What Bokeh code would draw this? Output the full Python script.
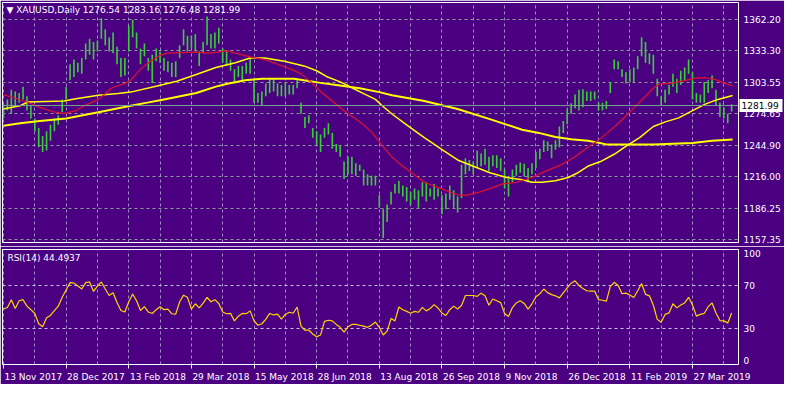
from bokeh.plotting import figure
from bokeh.layouts import column
from bokeh.models import FixedTicker, PrintfTickFormatter, Span, Label, Range1d
from bokeh.core.properties import value
from bokeh.embed import file_html
from bokeh.resources import INLINE

# ---------------- data ----------------
bar_high = [
    1283.3, 1287.7, 1296.6, 1295.1, 1293.6, 1299.6, 1290.7, 1281.8, 1269.9, 1261.0,
    1253.6, 1258.0, 1264.0, 1269.9, 1272.9, 1287.7, 1299.6, 1320.4, 1324.8, 1321.9,
    1326.3, 1339.7, 1344.1, 1341.2, 1342.6, 1363.4, 1353.0, 1345.6, 1350.1, 1336.7,
    1326.3, 1326.3, 1356.0, 1361.9, 1350.1, 1335.2, 1339.7, 1326.3, 1329.3, 1335.2,
    1332.3, 1326.3, 1323.3, 1321.9, 1323.3, 1338.2, 1353.0, 1347.1, 1347.1, 1348.6,
    1332.3, 1341.2, 1364.9, 1348.6, 1350.1, 1354.5, 1335.2, 1332.3, 1324.8, 1315.9,
    1318.9, 1318.9, 1321.9, 1326.3, 1305.5, 1293.6, 1295.1, 1302.6, 1307.0, 1307.0,
    1302.6, 1301.1, 1304.0, 1301.1, 1301.1, 1305.5, 1284.7, 1271.4, 1272.9, 1261.0,
    1258.0, 1255.1, 1261.0, 1265.4, 1256.5, 1246.2, 1244.7, 1229.8, 1234.3, 1234.3,
    1228.3, 1226.9, 1222.4, 1217.9, 1216.5, 1216.5, 1198.6, 1185.3, 1189.7, 1201.6,
    1209.0, 1212.0, 1207.5, 1206.1, 1201.6, 1204.6, 1203.1, 1210.5, 1210.5, 1204.6,
    1209.0, 1204.6, 1198.6, 1200.1, 1207.5, 1203.1, 1197.2, 1226.9, 1232.8, 1231.3,
    1229.8, 1240.2, 1237.2, 1241.7, 1234.3, 1235.7, 1235.7, 1232.8, 1222.4, 1213.5,
    1222.4, 1226.9, 1228.9, 1227.7, 1223.9, 1228.3, 1238.7, 1241.7, 1249.7, 1248.5,
    1245.6, 1249.7, 1262.5, 1267.5, 1278.8, 1284.1, 1292.2, 1296.6, 1297.2, 1295.1,
    1295.1, 1295.1, 1284.7, 1284.7, 1286.2, 1304.0, 1324.8, 1323.3, 1315.9, 1312.9,
    1315.9, 1317.4, 1327.8, 1345.6, 1341.2, 1330.8, 1329.3, 1307.0, 1290.7, 1296.6,
    1301.1, 1311.5, 1307.0, 1314.4, 1317.4, 1324.8, 1312.9, 1293.6, 1292.2, 1304.0,
    1305.5, 1310.0, 1296.6, 1284.7, 1280.3, 1274.4, 1283.2,
]
bar_low = [
    1269.9, 1277.3, 1274.4, 1281.8, 1284.7, 1287.7, 1277.3, 1269.9, 1258.0, 1243.2,
    1238.7, 1240.2, 1249.1, 1258.0, 1264.0, 1275.8, 1287.7, 1305.5, 1308.5, 1312.9,
    1311.5, 1324.8, 1329.3, 1324.8, 1332.3, 1344.1, 1338.2, 1332.3, 1330.8, 1320.4,
    1308.5, 1310.0, 1332.3, 1345.6, 1335.2, 1320.4, 1327.8, 1314.4, 1303.1, 1323.3,
    1321.9, 1314.4, 1312.9, 1308.5, 1308.5, 1326.3, 1338.2, 1332.3, 1335.2, 1332.3,
    1318.9, 1330.8, 1338.2, 1335.2, 1335.2, 1339.7, 1321.9, 1318.9, 1314.4, 1302.6,
    1308.5, 1305.5, 1311.5, 1311.5, 1284.7, 1284.7, 1281.8, 1290.7, 1293.6, 1295.1,
    1290.7, 1290.7, 1290.7, 1292.2, 1292.2, 1298.1, 1274.4, 1261.0, 1265.4, 1252.1,
    1244.7, 1238.7, 1252.1, 1255.1, 1241.7, 1238.7, 1234.3, 1213.5, 1217.9, 1217.9,
    1216.5, 1220.9, 1207.5, 1207.5, 1207.5, 1207.5, 1186.8, 1158.6, 1173.4, 1189.7,
    1200.1, 1200.1, 1197.2, 1192.7, 1189.7, 1194.2, 1186.8, 1197.2, 1192.7, 1197.2,
    1194.2, 1197.2, 1180.8, 1185.3, 1194.2, 1186.8, 1182.3, 1195.7, 1217.9, 1220.9,
    1217.9, 1223.9, 1225.4, 1226.9, 1220.9, 1225.4, 1223.9, 1220.9, 1204.6, 1197.2,
    1210.5, 1216.5, 1219.4, 1215.9, 1210.5, 1217.9, 1223.9, 1231.9, 1238.7, 1239.6,
    1232.8, 1240.8, 1243.2, 1256.5, 1264.5, 1274.4, 1279.4, 1277.3, 1280.3, 1286.2,
    1286.2, 1287.7, 1277.3, 1277.3, 1278.8, 1293.6, 1315.9, 1315.9, 1308.5, 1302.6,
    1304.0, 1304.0, 1315.9, 1327.8, 1321.9, 1320.4, 1311.5, 1290.7, 1281.8, 1284.7,
    1292.2, 1299.6, 1293.6, 1301.1, 1305.5, 1311.5, 1287.7, 1284.7, 1284.7, 1284.7,
    1293.6, 1298.1, 1281.8, 1271.4, 1269.9, 1265.4, 1276.5,
]

# moving averages: (bar position, price)
ma_red_x = [0, 2.5, 6, 9.25, 12.5, 15.5, 18.5, 21, 24.25, 27.5, 31, 32.5, 35, 37.5, 40, 41.75,
            49.25, 52.5, 57.25, 59.25, 63.5, 66.75, 70, 73.5, 76, 78.5, 81, 84.25, 87.5, 91,
            94.25, 96.75, 99.25, 101, 104.25, 107.5, 111.75, 116, 118.5, 121.75, 124.25, 127.5,
            131, 135, 138.5, 142.5, 146, 149.25, 151.75, 154.25, 157.5, 161.75, 166, 167.5,
            171, 174.25, 176.75, 179.25, 181.75, 184.25, 186.25]
ma_red_y = [1292.2, 1289.2, 1285.3, 1280.3, 1276.4, 1274.4, 1277.3, 1282.4, 1287.7, 1298.1,
            1302.6, 1305.5, 1315.9, 1323.3, 1328.7, 1330.8, 1331.7, 1330.8, 1332.9, 1330.8,
            1326.9, 1324.8, 1320.4, 1315.9, 1311.5, 1304.0, 1295.1, 1285.3, 1275.8, 1266.9,
            1256.5, 1244.7, 1234.0, 1228.3, 1219.4, 1210.5, 1204.6, 1198.6, 1198.6, 1201.6,
            1204.6, 1209.0, 1210.5, 1215.0, 1220.9, 1226.9, 1234.3, 1243.2, 1249.1, 1256.5,
            1266.9, 1282.4, 1298.1, 1302.0, 1303.1, 1305.5, 1307.6, 1307.9, 1306.4, 1302.6,
            1300.2]

ma_mid_x = [0, 4.25, 6.25, 15.5, 18.5, 24.25, 29.25, 32.5, 39.25, 44.25, 49.25, 54.25, 59.25,
            63, 66.75, 71.75, 76.75, 80, 82.5, 86, 89.25, 91.75, 95, 96.75, 99.25, 103.5,
            107.5, 111.75, 116, 120, 124.25, 128.5, 132.5, 135, 137.5, 141, 144.25, 146.75,
            149.25, 152.5, 156, 159.25, 162.5, 166, 169.25, 172.5, 176, 179.25, 182.5, 186.25]
ma_mid_y = [1278.8, 1281.8, 1285.3, 1286.2, 1288.3, 1291.6, 1293.1, 1294.5, 1300.2, 1304.6,
            1310.9, 1317.4, 1321.9, 1326.3, 1326.3, 1323.3, 1318.9, 1314.4, 1309.1, 1304.0,
            1298.1, 1293.6, 1287.7, 1281.8, 1274.1, 1262.5, 1252.1, 1241.7, 1231.3, 1225.4,
            1219.4, 1215.0, 1212.9, 1210.5, 1210.5, 1212.0, 1215.0, 1219.4, 1225.4, 1229.8,
            1236.6, 1244.7, 1252.1, 1262.5, 1267.0, 1270.5, 1277.3, 1283.3, 1287.7, 1291.3]

ma_slow_x = [0, 4.25, 9.25, 16, 24.25, 32.5, 36.75, 41, 49.25, 54.25, 57.5, 61.75, 66, 74.25,
             76.75, 81, 85, 91, 96, 99.25, 107.5, 116, 124.25, 132.5, 136.75, 141, 145,
             149.25, 151.75, 154.25, 166, 176, 181, 186.25]
ma_slow_y = [1263.1, 1265.4, 1267.5, 1269.9, 1275.8, 1281.8, 1284.7, 1287.7, 1293.6, 1299.6,
             1302.6, 1305.5, 1307.0, 1307.0, 1305.5, 1303.1, 1301.1, 1298.1, 1294.5, 1291.6,
             1286.2, 1278.8, 1269.3, 1259.5, 1256.5, 1252.7, 1250.6, 1249.1, 1247.6, 1245.6,
             1245.6, 1247.1, 1249.1, 1250.3]

rsi = [
    48.1, 49.5, 56.8, 48.6, 55.8, 56.8, 50.8, 47.5, 44.0, 34.4,
    31.6, 39.9, 42.1, 46.7, 50.8, 59.0, 65.9, 72.7, 72.2, 69.5,
    66.7, 72.7, 73.3, 64.5, 69.5, 73.3, 66.7, 60.7, 63.2, 54.1,
    46.7, 45.3, 54.9, 62.1, 55.8, 46.7, 50.3, 45.3, 44.0, 47.5,
    50.3, 47.5, 48.1, 43.7, 43.4, 54.9, 61.0, 59.0, 48.1, 53.0,
    49.2, 53.6, 59.0, 54.9, 56.8, 53.3, 45.3, 43.7, 44.0, 37.1,
    41.5, 44.0, 43.7, 46.4, 37.1, 33.0, 34.4, 38.5, 44.0, 42.6,
    43.4, 38.8, 43.1, 45.1, 44.2, 50.0, 32.2, 28.4, 28.6, 24.8,
    22.3, 24.0, 36.6, 37.7, 37.1, 33.8, 31.1, 26.7, 31.6, 33.8,
    33.8, 33.0, 32.2, 31.1, 33.0, 36.0, 31.1, 24.0, 27.5, 39.3,
    37.1, 50.0, 47.5, 45.9, 44.2, 45.9, 45.1, 49.7, 46.4, 48.6,
    52.2, 48.9, 44.5, 42.1, 47.5, 50.8, 48.1, 51.4, 60.7, 60.7,
    60.7, 59.9, 62.9, 60.4, 51.6, 57.4, 55.8, 54.1, 44.0, 41.2,
    49.5, 53.8, 55.8, 53.3, 48.1, 53.0, 59.6, 62.3, 66.7, 63.4,
    61.5, 60.4, 58.5, 63.2, 67.8, 72.2, 74.4, 70.0, 67.3, 65.1,
    64.8, 64.8, 56.8, 56.3, 55.5, 68.9, 73.0, 70.0, 62.3, 62.9,
    61.2, 58.8, 65.1, 71.9, 61.8, 60.4, 51.6, 38.5, 35.8, 43.1,
    44.5, 53.0, 49.2, 51.9, 53.8, 59.0, 51.9, 41.5, 43.1, 44.0,
    50.3, 53.8, 44.5, 37.4, 37.1, 35.2, 44.5,
]

price_ticks = [1157.35, 1186.25, 1216.00, 1244.90, 1274.65, 1303.55, 1333.30, 1362.20]
rsi_ticks = [0, 30, 70, 100]
rsi_levels = [30, 70]
date_labels = ["13 Nov 2017", "28 Dec 2017", "13 Feb 2018", "29 Mar 2018", "15 May 2018",
               "28 Jun 2018", "13 Aug 2018", "26 Sep 2018", "9 Nov 2018", "26 Dec 2018",
               "11 Feb 2019", "27 Mar 2019"]
date_pos = [0, 16, 32, 48, 64, 80, 96, 112, 128, 144, 160, 176]
last_price = 1281.99
title_text = "\u25bc XAUUSD,Daily  1276.54 1283.16 1276.48 1281.99"
rsi_text = "RSI(14) 44.4937"

# ---------------- styling ----------------
BG = "#4b0082"
FONT = "DejaVu Sans"
FS = "9px"
GREEN = "#36d036"
VGRID = "#9d8cc6"
HGRID = "#8b9b98"
RSI_GRID = "#c8c0e2"
W = 784
BL, BR = 2, 46
X0, X1 = -0.25, 187.75
FRAME_W = W - BL - BR
PX_PER_UNIT = FRAME_W / (X1 - X0)

bar_x = list(range(len(bar_high)))
grid_x = [p + d for p in date_pos for d in (0, 8)] + [184]


def style_fig(f):
    f.background_fill_color = BG
    f.border_fill_color = BG
    f.outline_line_color = "white"
    f.outline_line_width = 1
    f.xgrid.ticker = FixedTicker(ticks=grid_x)
    f.xgrid.grid_line_color = VGRID
    f.xgrid.grid_line_dash = "3 3"
    f.ygrid.grid_line_dash = "3 3"
    ax = f.yaxis[0]
    ax.axis_line_color = None
    ax.major_tick_line_color = None
    ax.minor_tick_line_color = None
    ax.major_tick_out = 0
    ax.major_tick_in = 0
    ax.major_label_standoff = 5
    ax.major_label_text_color = "white"
    ax.major_label_text_font = FONT
    ax.major_label_text_font_size = FS


x_range = Range1d(X0, X1)

# ---------------- main price panel ----------------
main = figure(width=W, height=246, x_range=x_range, y_range=Range1d(1154.41, 1377.97),
              output_backend="svg", toolbar_location=None, y_axis_location="right",
              min_border_left=BL, min_border_right=BR, min_border_top=2, min_border_bottom=4)
style_fig(main)
main.xaxis.visible = False
main.ygrid.ticker = FixedTicker(ticks=price_ticks)
main.ygrid.grid_line_color = HGRID
main.yaxis.ticker = FixedTicker(ticks=price_ticks)
main.yaxis.formatter = PrintfTickFormatter(format="%.2f")

main.segment(x0=bar_x, y0=bar_low, x1=bar_x, y1=bar_high, line_color=GREEN, line_width=1.6)
main.line(ma_slow_x, ma_slow_y, line_color="#ffff00", line_width=2)
main.line(ma_mid_x, ma_mid_y, line_color="#ffff00", line_width=1.5)
main.line(ma_red_x, ma_red_y, line_color="#e0102c", line_width=1.2)

main.add_layout(Span(location=last_price, dimension="width", line_color="#78a090", line_width=1))
main.add_layout(Label(x=0.75, y=1370.8, text=title_text, text_color="white", text_font=FONT,
                      text_font_size=FS, text_baseline="middle", text_align="left"))

# current-price marker on the price scale (drawn at overlay level, beside the frame)
BOX_W, BOX_H = 43, 13
main.rect(x=[X1 + (1 + BOX_W / 2) / PX_PER_UNIT], y=[last_price], width=BOX_W, height=BOX_H,
          width_units="screen", height_units="screen", fill_color="white", line_color=None,
          level="overlay")
main.text(x=[X1 + 3 / PX_PER_UNIT], y=[last_price], text=["%.2f" % last_price],
          text_color="black", text_font=value(FONT), text_font_size=value(FS),
          text_baseline="middle", text_align="left", level="overlay")

# ---------------- RSI panel ----------------
rp = figure(width=W, height=138, x_range=x_range, y_range=Range1d(-3.5, 103.5),
            output_backend="svg", toolbar_location=None, y_axis_location="right",
            min_border_left=BL, min_border_right=BR, min_border_top=3, min_border_bottom=16)
style_fig(rp)
rp.ygrid.ticker = FixedTicker(ticks=rsi_levels)
rp.ygrid.grid_line_color = RSI_GRID
rp.yaxis.ticker = FixedTicker(ticks=rsi_ticks)

rp.line(bar_x, rsi, line_color="#ffd400", line_width=1.2)
rp.add_layout(Label(x=1.0, y=95.5, text=rsi_text, text_color="white", text_font=FONT,
                    text_font_size=FS, text_baseline="middle", text_align="left"))

# left-aligned date labels: each label centre is shifted by half its text width,
# the short tick marks sit at the dates themselves (minor ticks)
CW = {"0": .636, "1": .636, "2": .636, "3": .636, "4": .636, "5": .636, "6": .636, "7": .636,
      "8": .636, "9": .636, " ": .318, "N": .748, "o": .612, "v": .592, "D": .770, "e": .615,
      "c": .550, "F": .575, "b": .635, "M": .863, "a": .613, "r": .411, "y": .592, "J": .295,
      "u": .634, "n": .634, "A": .684, "g": .635, "S": .635, "p": .635}
lab_pos, overrides = [], {}
for p, s in zip(date_pos, date_labels):
    w = sum(CW.get(ch, .6) for ch in s) * 9
    c = round(p + (w / 2 + 1) / PX_PER_UNIT, 3)
    lab_pos.append(c)
    overrides[c] = s

xa = rp.xaxis[0]
xa.ticker = FixedTicker(ticks=lab_pos, minor_ticks=date_pos)
xa.major_label_overrides = overrides
xa.axis_line_color = None
xa.major_tick_line_color = None
xa.major_tick_out = 0
xa.major_tick_in = 0
xa.minor_tick_line_color = "white"
xa.minor_tick_out = 4
xa.minor_tick_in = 0
xa.major_label_standoff = 3
xa.major_label_text_color = "white"
xa.major_label_text_font = FONT
xa.major_label_text_font_size = FS

layout = column(main, rp, spacing=0)
open("out.html", "w").write(file_html(layout, INLINE, title="XAUUSD Daily"))
